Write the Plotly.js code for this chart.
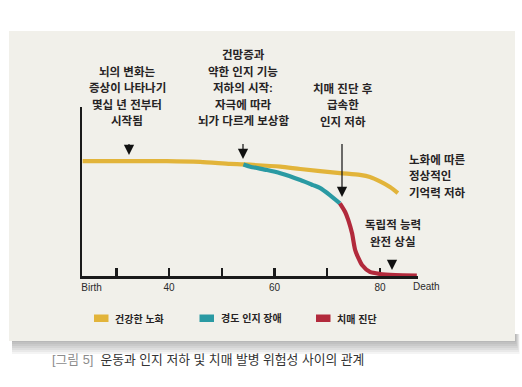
<!DOCTYPE html>
<html>
<head>
<meta charset="utf-8">
<script src="https://cdn.plot.ly/plotly-3.0.1.min.js"></script>
<style>html,body{margin:0;padding:0;background:#fff;}#chart{width:522px;height:387px;}</style>
</head>
<body>
<div id="chart"></div>
<script>
// ---- data ----
const healthyAge = [23.6, 32.6, 39.6, 45.9, 51.6, 54.1, 61.1, 64.9, 72.4, 76.2, 78.1, 80.0, 81.9, 83.4];
const healthyVal = [68.0, 68.0, 68.0, 67.5, 66.3, 66.0, 64.7, 63.3, 60.9, 59.8, 58.6, 56.0, 52.7, 49.1];
const mciAge = [54.1, 55.4, 58.6, 61.1, 64.9, 67.3, 68.6, 70.5, 72.4];
const mciVal = [66.0, 64.7, 62.7, 60.8, 56.8, 53.8, 52.1, 47.9, 43.0];
const dementiaAge = [72.4, 73.4, 74.0, 74.7, 75.3, 75.9, 76.6, 78.1, 80.0, 82.9, 87.0];
const dementiaVal = [43.0, 37.9, 33.1, 25.4, 15.4, 10.7, 6.5, 2.4, 1.2, 0.6, 0.3];
const tickAges = [30, 40, 50, 60, 70, 80];
const labelAges = [25.3, 40, 60, 80];
const labelText = ['Birth', '40', '60', '80'];
const endLabel = 'Death';
const seriesNames = ['건강한 노화', '경도 인지 장애', '치매 진단'];
const seriesColors = ['#e2b43a', '#2a9aa3', '#b22a3c'];
const noteBrain = ['뇌의 변화는', '증상이 나타나기', '몇십 년 전부터', '시작됨'];
const noteMci = ['건망증과', '약한 인지 기능', '저하의 시작:', '자극에 따라', '뇌가 다르게 보상함'];
const noteDementia = ['치매 진단 후', '급속한', '인지 저하'];
const noteNormal = ['노화에 따른', '정상적인', '기억력 저하'];
const noteLoss = ['독립적 능력', '완전 상실'];
const captionLabel = '[그림 5]';
const captionText = '운동과 인지 저하 및 치매 발병 위험성 사이의 관계';

// ---- layout helpers ----
const M = {l: 82, r: 104, t: 107, b: 111};
const PW = 522 - M.l - M.r, PH = 387 - M.t - M.b;
const px = v => (v - M.l) / PW;
const py = v => (387 - M.b - v) / PH;
const KF = 'Liberation Sans, Noto Sans CJK KR, sans-serif';
const TXT = '#262324';
const TICKFONT = {family: 'Liberation Sans, Arial, sans-serif', size: 10, color: '#2a2a2a'};

const traces = [
  {x: healthyAge, y: healthyVal, mode: 'lines', line: {color: seriesColors[0], width: 4.2, shape: 'spline', smoothing: 0.7}, hoverinfo: 'skip'},
  {x: mciAge, y: mciVal, mode: 'lines', line: {color: seriesColors[1], width: 4.2, shape: 'spline', smoothing: 0.7}, hoverinfo: 'skip'},
  {x: dementiaAge, y: dementiaVal, mode: 'lines', line: {color: seriesColors[2], width: 4.2, shape: 'spline', smoothing: 0.7}, hoverinfo: 'skip'},
  // carrier for the label axis (no visible marks)
  {x: labelAges, y: labelAges.map(() => null), xaxis: 'x2', mode: 'markers', marker: {opacity: 0}, hoverinfo: 'skip'}
];

const shapes = [];
const annotations = [];

// panel with shadow
for (let k = 0; k < 7; k++) {
  shapes.push({type: 'rect', xref: 'paper', yref: 'paper', layer: 'below',
    x0: px(12), x1: px(516 + k * 0.6), y0: py(334), y1: py(342 + k * 2),
    fillcolor: 'rgba(0,0,0,0.045)', line: {width: 0}});
}
shapes.push({type: 'rect', xref: 'paper', yref: 'paper', layer: 'below',
  x0: px(9), x1: px(515), y0: py(341), y1: py(31),
  fillcolor: '#f1f0ea', line: {width: 0}});

// multi-line text blocks
function block(lines, x, y0, anchor) {
  lines.forEach((t, i) => {
    annotations.push({xref: 'paper', yref: 'paper', x: px(x), y: py(y0 + i * 16.6),
      text: t, showarrow: false, xanchor: anchor, yanchor: 'middle',
      font: {family: KF, size: 11.5, color: TXT, weight: 'bold'}});
  });
}
block(noteBrain, 127, 71, 'center');
block(noteMci, 243, 54.5, 'center');
block(noteDementia, 342.5, 88, 'center');
block(noteNormal, 407, 159.5, 'left');
block(noteLoss, 392.5, 225, 'center');

// arrows
function arrow(x, yTail, yTip) {
  annotations.push({xref: 'paper', yref: 'paper', x: px(x), y: py(yTip), ax: 0, ay: yTail - yTip,
    text: ' ', showarrow: true, arrowhead: 2, arrowsize: 1.7, arrowwidth: 1.2, arrowcolor: '#111',
    standoff: 0, startstandoff: 0});
}
arrow(129, 134, 155);
arrow(243, 134, 159);
arrow(342, 134, 197);
arrow(392, 250, 270);

// end-of-axis label
annotations.push({xref: 'paper', yref: 'paper', x: px(426), y: py(286.5), text: endLabel, showarrow: false,
  xanchor: 'center', yanchor: 'middle', font: TICKFONT});

// legend
const legX = [94, 199.5, 316];
seriesNames.forEach((n, i) => {
  shapes.push({type: 'rect', xref: 'paper', yref: 'paper', x0: px(legX[i]), x1: px(legX[i] + 14.5),
    y0: py(322), y1: py(314.5), fillcolor: seriesColors[i], line: {width: 0}});
  annotations.push({xref: 'paper', yref: 'paper', x: px(legX[i] + 19), y: py(318.5), text: '<b>' + n + '</b>',
    showarrow: false, xanchor: 'left', yanchor: 'middle', font: {family: KF, size: 10, color: TXT}});
});

// caption
annotations.push({xref: 'paper', yref: 'paper', x: px(50), y: py(359.5),
  text: '<span style="color:#8c8c8c">' + captionLabel + '</span>  ' + captionText,
  showarrow: false, xanchor: 'left', yanchor: 'middle', font: {family: KF, size: 12.8, color: '#333'}});

const layout = {
  width: 522, height: 387, margin: M,
  paper_bgcolor: '#ffffff', plot_bgcolor: 'rgba(0,0,0,0)',
  showlegend: false,
  xaxis: {range: [23.48, 87.22], showline: true, linecolor: '#1a1a1a', linewidth: 2.5, layer: 'below traces',
    ticks: 'inside', ticklen: 8, tickwidth: 2.5, tickcolor: '#1a1a1a', tickvals: tickAges,
    showticklabels: false, showgrid: false, zeroline: false, fixedrange: true},
  xaxis2: {range: [23.48, 87.22], overlaying: 'x', anchor: 'y', side: 'bottom', showline: false, ticks: '',
    tickvals: labelAges, ticktext: labelText, showgrid: false, zeroline: false, fixedrange: true,
    ticklabelstandoff: 4, tickfont: TICKFONT},
  yaxis: {range: [0, 100], showline: true, linecolor: '#1a1a1a', linewidth: 2.5, layer: 'below traces',
    ticks: '', showticklabels: false, showgrid: false, zeroline: false, fixedrange: true},
  shapes: shapes,
  annotations: annotations
};

Plotly.newPlot('chart', traces, layout, {displayModeBar: false, staticPlot: true});
</script>
</body>
</html>
